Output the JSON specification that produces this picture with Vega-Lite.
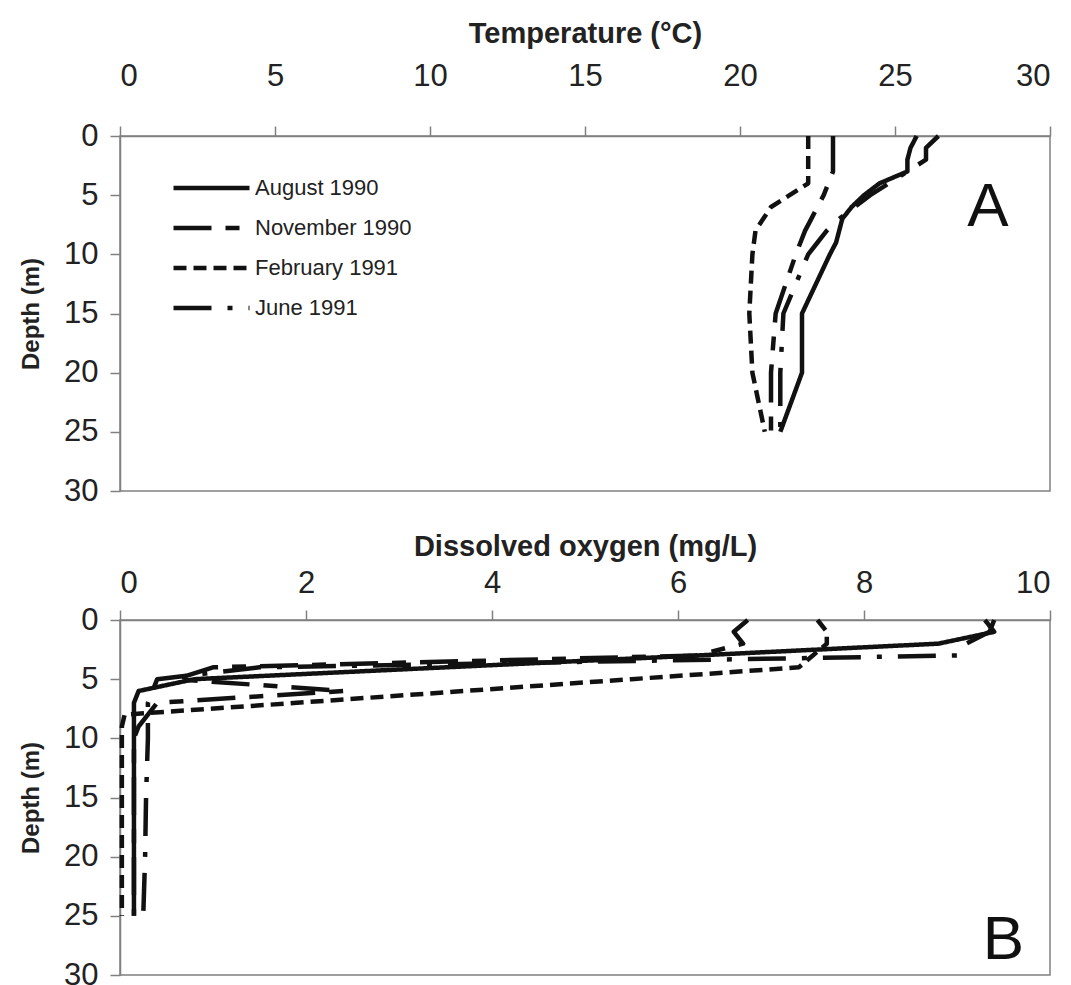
{
  "$schema": "https://vega.github.io/schema/vega-lite/v6.json",
  "background": "white",
  "padding": {"left": 18, "top": 18, "right": 10, "bottom": 5},
  "config": {
    "font": "Liberation Sans",
    "view": {"stroke": "#808080", "strokeWidth": 1.5},
    "axis": {"domainColor": "#808080", "tickColor": "#808080", "domainWidth": 1.5, "tickWidth": 1.5, "tickSize": 10, "grid": false, "labelFont": "Liberation Sans", "labelFontSize": 31, "labelColor": "#222222", "titleFont": "Liberation Sans", "titleFontSize": 29, "titleFontWeight": "bold", "titleColor": "#222222"},
    "axisLeft": {"titleFontSize": 24},
    "concat": {"spacing": 24}
  },
  "datasets": {
    "temp": [
      {"month": "August 1990", "depth": 0, "value": 25.7},
      {"month": "August 1990", "depth": 1, "value": 25.5},
      {"month": "August 1990", "depth": 2, "value": 25.4},
      {"month": "August 1990", "depth": 3, "value": 25.4},
      {"month": "August 1990", "depth": 4, "value": 24.5},
      {"month": "August 1990", "depth": 5, "value": 24.0},
      {"month": "August 1990", "depth": 6, "value": 23.6},
      {"month": "August 1990", "depth": 7, "value": 23.3},
      {"month": "August 1990", "depth": 8, "value": 23.2},
      {"month": "August 1990", "depth": 9, "value": 23.1},
      {"month": "August 1990", "depth": 10, "value": 22.9},
      {"month": "August 1990", "depth": 15, "value": 22.0},
      {"month": "August 1990", "depth": 20, "value": 22.0},
      {"month": "August 1990", "depth": 25, "value": 21.3},
      {"month": "November 1990", "depth": 0, "value": 23.0},
      {"month": "November 1990", "depth": 1, "value": 23.0},
      {"month": "November 1990", "depth": 2, "value": 23.0},
      {"month": "November 1990", "depth": 3, "value": 23.0},
      {"month": "November 1990", "depth": 4, "value": 22.85},
      {"month": "November 1990", "depth": 5, "value": 22.7},
      {"month": "November 1990", "depth": 6, "value": 22.5},
      {"month": "November 1990", "depth": 7, "value": 22.3},
      {"month": "November 1990", "depth": 8, "value": 22.1},
      {"month": "November 1990", "depth": 9, "value": 21.95},
      {"month": "November 1990", "depth": 10, "value": 21.8},
      {"month": "November 1990", "depth": 15, "value": 21.15},
      {"month": "November 1990", "depth": 20, "value": 21.0},
      {"month": "November 1990", "depth": 25, "value": 21.0},
      {"month": "February 1991", "depth": 0, "value": 22.2},
      {"month": "February 1991", "depth": 1, "value": 22.2},
      {"month": "February 1991", "depth": 2, "value": 22.2},
      {"month": "February 1991", "depth": 3, "value": 22.2},
      {"month": "February 1991", "depth": 4, "value": 22.2},
      {"month": "February 1991", "depth": 5, "value": 21.6},
      {"month": "February 1991", "depth": 6, "value": 21.0},
      {"month": "February 1991", "depth": 7, "value": 20.75},
      {"month": "February 1991", "depth": 8, "value": 20.5},
      {"month": "February 1991", "depth": 9, "value": 20.45},
      {"month": "February 1991", "depth": 10, "value": 20.4},
      {"month": "February 1991", "depth": 15, "value": 20.3},
      {"month": "February 1991", "depth": 20, "value": 20.4},
      {"month": "February 1991", "depth": 25, "value": 20.8},
      {"month": "June 1991", "depth": 0, "value": 26.4},
      {"month": "June 1991", "depth": 1, "value": 26.0},
      {"month": "June 1991", "depth": 2, "value": 26.0},
      {"month": "June 1991", "depth": 3, "value": 25.4},
      {"month": "June 1991", "depth": 4, "value": 24.8},
      {"month": "June 1991", "depth": 5, "value": 24.2},
      {"month": "June 1991", "depth": 6, "value": 23.7},
      {"month": "June 1991", "depth": 7, "value": 23.2},
      {"month": "June 1991", "depth": 8, "value": 22.8},
      {"month": "June 1991", "depth": 9, "value": 22.5},
      {"month": "June 1991", "depth": 10, "value": 22.2},
      {"month": "June 1991", "depth": 15, "value": 21.4},
      {"month": "June 1991", "depth": 20, "value": 21.3},
      {"month": "June 1991", "depth": 25, "value": 21.3}
    ],
    "oxygen": [
      {"month": "August 1990", "depth": 0, "value": 9.3},
      {"month": "August 1990", "depth": 1, "value": 9.4},
      {"month": "August 1990", "depth": 2, "value": 8.8},
      {"month": "August 1990", "depth": 3, "value": 6.2},
      {"month": "August 1990", "depth": 4, "value": 3.5},
      {"month": "August 1990", "depth": 5, "value": 0.8},
      {"month": "August 1990", "depth": 6, "value": 0.2},
      {"month": "August 1990", "depth": 7, "value": 0.15},
      {"month": "August 1990", "depth": 8, "value": 0.15},
      {"month": "August 1990", "depth": 9, "value": 0.15},
      {"month": "August 1990", "depth": 10, "value": 0.15},
      {"month": "August 1990", "depth": 15, "value": 0.15},
      {"month": "August 1990", "depth": 20, "value": 0.15},
      {"month": "August 1990", "depth": 25, "value": 0.15},
      {"month": "November 1990", "depth": 0, "value": 6.75},
      {"month": "November 1990", "depth": 1, "value": 6.6},
      {"month": "November 1990", "depth": 2, "value": 6.7},
      {"month": "November 1990", "depth": 3, "value": 6.2},
      {"month": "November 1990", "depth": 4, "value": 1.0},
      {"month": "November 1990", "depth": 5, "value": 0.6},
      {"month": "November 1990", "depth": 6, "value": 2.4},
      {"month": "November 1990", "depth": 7, "value": 0.4},
      {"month": "November 1990", "depth": 8, "value": 0.3},
      {"month": "November 1990", "depth": 9, "value": 0.2},
      {"month": "November 1990", "depth": 10, "value": 0.15},
      {"month": "November 1990", "depth": 15, "value": 0.15},
      {"month": "November 1990", "depth": 20, "value": 0.15},
      {"month": "November 1990", "depth": 25, "value": 0.15},
      {"month": "February 1991", "depth": 0, "value": 7.5},
      {"month": "February 1991", "depth": 1, "value": 7.6},
      {"month": "February 1991", "depth": 2, "value": 7.6},
      {"month": "February 1991", "depth": 3, "value": 7.45},
      {"month": "February 1991", "depth": 4, "value": 7.3},
      {"month": "February 1991", "depth": 5, "value": 5.5},
      {"month": "February 1991", "depth": 6, "value": 3.7},
      {"month": "February 1991", "depth": 7, "value": 1.9},
      {"month": "February 1991", "depth": 8, "value": 0.05},
      {"month": "February 1991", "depth": 9, "value": 0.02},
      {"month": "February 1991", "depth": 10, "value": 0.02},
      {"month": "February 1991", "depth": 15, "value": 0.02},
      {"month": "February 1991", "depth": 20, "value": 0.02},
      {"month": "February 1991", "depth": 25, "value": 0.02},
      {"month": "June 1991", "depth": 0, "value": 9.4},
      {"month": "June 1991", "depth": 1, "value": 9.35},
      {"month": "June 1991", "depth": 2, "value": 9.1},
      {"month": "June 1991", "depth": 3, "value": 9.0},
      {"month": "June 1991", "depth": 4, "value": 1.5},
      {"month": "June 1991", "depth": 5, "value": 0.4},
      {"month": "June 1991", "depth": 6, "value": 0.35},
      {"month": "June 1991", "depth": 7, "value": 0.3},
      {"month": "June 1991", "depth": 8, "value": 0.3},
      {"month": "June 1991", "depth": 9, "value": 0.3},
      {"month": "June 1991", "depth": 10, "value": 0.3},
      {"month": "June 1991", "depth": 15, "value": 0.28},
      {"month": "June 1991", "depth": 20, "value": 0.27},
      {"month": "June 1991", "depth": 25, "value": 0.25}
    ],
    "labelA": [{"label": "A", "value": 28, "depth": 6}],
    "labelB": [{"label": "B", "value": 9.5, "depth": 27}]
  },
  "vconcat": [
    {
      "width": 930,
      "height": 355,
      "layer": [
        {
          "data": {"name": "temp"},
          "mark": {"type": "line", "strokeWidth": 4.5, "color": "#111111", "strokeCap": "butt", "strokeJoin": "round"},
          "encoding": {
            "x": {"field": "value", "type": "quantitative", "scale": {"domain": [0, 30], "nice": false, "zero": false},
                  "axis": {"orient": "top", "title": "Temperature (°C)", "values": [0, 5, 10, 15, 20, 25, 30], "labelPadding": 34, "titlePadding": 12}},
            "y": {"field": "depth", "type": "quantitative", "scale": {"domain": [0, 30], "reverse": true, "nice": false},
                  "axis": {"title": "Depth (m)", "values": [0, 5, 10, 15, 20, 25, 30], "labelPadding": 12, "titlePadding": 20}},
            "strokeDash": {"field": "month", "type": "nominal",
                           "scale": {"domain": ["August 1990", "November 1990", "February 1991", "June 1991"], "range": [[1, 0], [38, 14, 14, 14], [13, 7], [38, 16, 5, 16]]},
                           "legend": {"orient": "none", "legendX": 51, "legendY": 40, "title": null, "labelFontSize": 22, "labelFont": "Liberation Sans", "labelColor": "#222222", "symbolType": "stroke", "symbolSize": 5776, "symbolStrokeWidth": 4.5, "symbolStrokeColor": "#111111", "clipHeight": 24, "rowPadding": 16, "labelOffset": 3}},
            "order": {"field": "depth", "type": "quantitative"}
          }
        },
        {
          "data": {"name": "labelA"},
          "mark": {"type": "text", "fontSize": 62, "font": "Liberation Sans", "color": "#111111"},
          "encoding": {
            "x": {"field": "value", "type": "quantitative"},
            "y": {"field": "depth", "type": "quantitative"},
            "text": {"field": "label"}
          }
        }
      ]
    },
    {
      "width": 930,
      "height": 355,
      "layer": [
        {
          "data": {"name": "oxygen"},
          "mark": {"type": "line", "strokeWidth": 4.5, "color": "#111111", "strokeCap": "butt", "strokeJoin": "round"},
          "encoding": {
            "x": {"field": "value", "type": "quantitative", "scale": {"domain": [0, 10], "nice": false, "zero": false},
                  "axis": {"orient": "top", "title": "Dissolved oxygen (mg/L)", "values": [0, 2, 4, 6, 8, 10], "format": "d", "labelPadding": 11, "titlePadding": 6}},
            "y": {"field": "depth", "type": "quantitative", "scale": {"domain": [0, 30], "reverse": true, "nice": false},
                  "axis": {"title": "Depth (m)", "values": [0, 5, 10, 15, 20, 25, 30], "labelPadding": 12, "titlePadding": 20}},
            "strokeDash": {"field": "month", "type": "nominal",
                           "scale": {"domain": ["August 1990", "November 1990", "February 1991", "June 1991"], "range": [[1, 0], [38, 14, 14, 14], [13, 7], [38, 16, 5, 16]]},
                           "legend": null},
            "order": {"field": "depth", "type": "quantitative"}
          }
        },
        {
          "data": {"name": "labelB"},
          "mark": {"type": "text", "fontSize": 62, "font": "Liberation Sans", "color": "#111111"},
          "encoding": {
            "x": {"field": "value", "type": "quantitative"},
            "y": {"field": "depth", "type": "quantitative"},
            "text": {"field": "label"}
          }
        }
      ]
    }
  ],
  "resolve": {"scale": {"strokeDash": "independent"}, "legend": {"strokeDash": "independent"}}
}
